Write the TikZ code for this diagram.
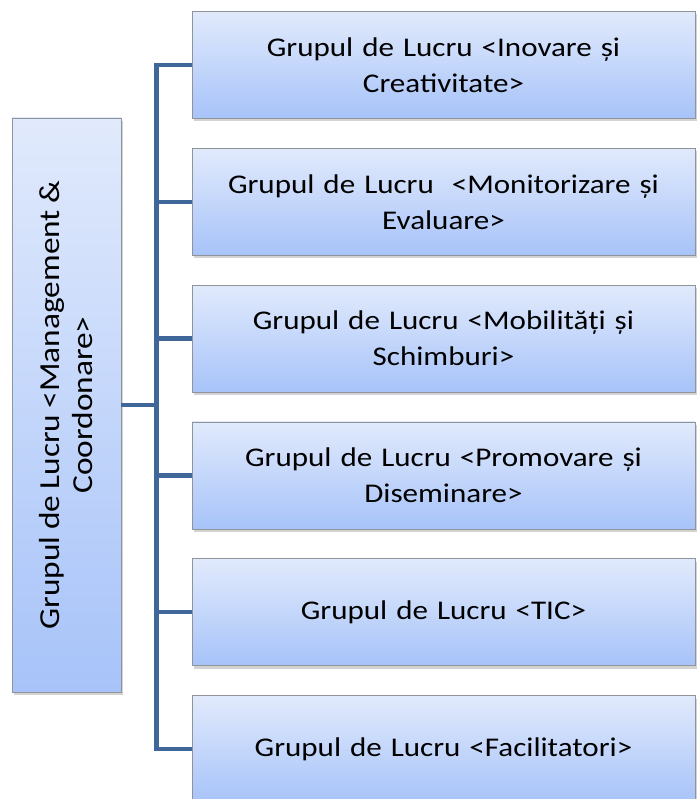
\documentclass[tikz,border=0pt]{standalone}
\usepackage{fontspec}
\setmainfont{Carlito}[FakeStretch=1.15,WordSpace=0.85]
\usetikzlibrary{positioning,shadows}
\definecolor{linkblue}{HTML}{3F679A}
\definecolor{boxtop}{HTML}{E1EAFC}
\definecolor{boxbottom}{HTML}{A7C3F9}
\definecolor{boxedge}{HTML}{8F939A}

\begin{document}
\begin{tikzpicture}[x=1pt,y=-1pt,node distance=29pt,
  group/.style={draw=boxedge,line width=0.8pt,top color=boxtop,bottom color=boxbottom,
    drop shadow={shadow xshift=2pt,shadow yshift=-3pt,opacity=0.35},
    minimum width=503pt,minimum height=107pt,inner sep=0pt,text width=490pt,align=center,
    font=\fontsize{27}{36}\selectfont},
  link/.style={draw=linkblue,line width=4.5pt}]
  \useasboundingbox (0,0) rectangle (697,799);
  % coordinating group on the left
  \node[group,minimum width=109pt,minimum height=574pt,text width=100pt] (mc) at (66.5,405) {};
  \node[rotate=90,align=center,font=\fontsize{29}{33}\selectfont] (mctext) at (mc) {Grupul de Lucru <Management \&\\Coordonare>};
  % working groups
  \node[group] (g1) at (443.5,65) {Grupul de Lucru <Inovare și\\Creativitate>};
  \node[group] (g2) [below=of g1] {Grupul de Lucru \ <Monitorizare și\\Evaluare>};
  \node[group] (g3) [below=of g2] {Grupul de Lucru <Mobilități și\\Schimburi>};
  \node[group] (g4) [below=of g3] {Grupul de Lucru <Promovare și\\Diseminare>};
  \node[group] (g5) [below=of g4] {Grupul de Lucru <TIC>};
  \node[group] (g6) [below=of g5] {Grupul de Lucru <Facilitatori>};
  \coordinate (trunk) at (156.5,405);

  \path[link] (mc.east) -- (trunk);
  \foreach \n in {1,...,6}
    \path[link] (g\n.west) -| (trunk);
\end{tikzpicture}
\end{document}
